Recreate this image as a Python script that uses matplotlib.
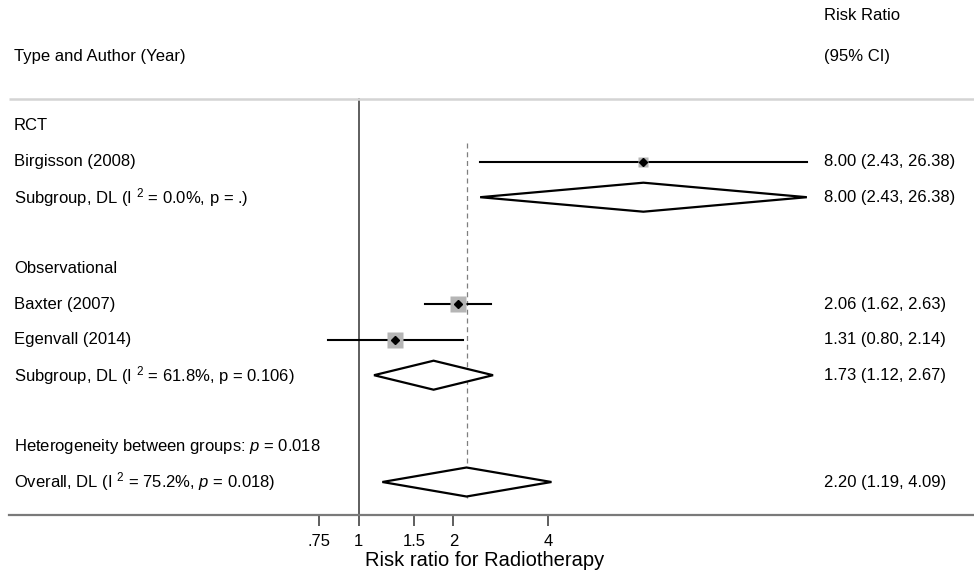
"""
Forest plot: risk ratio for radiotherapy, RCT vs observational studies.
"""

import numpy as np
import matplotlib.pyplot as plt
from matplotlib.patches import Polygon

plt.rcParams["font.family"] = ["Liberation Sans", "DejaVu Sans"]
plt.rcParams["mathtext.fontset"] = "custom"
plt.rcParams["mathtext.rm"] = "Liberation Sans"
plt.rcParams["mathtext.it"] = "Liberation Sans:italic"

# ----------------------------------------------------------------
# Data
# ----------------------------------------------------------------
group_names = ["RCT", "Observational"]

study_names  = ["Birgisson (2008)", "Baxter (2007)", "Egenvall (2014)"]
study_rr     = [8.00, 2.06, 1.31]
study_lo     = [2.43, 1.62, 0.80]
study_hi     = [26.38, 2.63, 2.14]
study_weight = [0.6, 1.0, 1.0]      # relative box size

pooled_names = [r"Subgroup, DL (I $^{2}$ = 0.0%, p = .)",
                r"Subgroup, DL (I $^{2}$ = 61.8%, p = 0.106)",
                r"Overall, DL (I $^{2}$ = 75.2%, $p$ = 0.018)"]
pooled_rr = [8.00, 1.73, 2.20]
pooled_lo = [2.43, 1.12, 1.19]
pooled_hi = [26.38, 2.67, 4.09]

het_text = "Heterogeneity between groups: $p$ = 0.018"

x_ticks       = [0.75, 1, 1.5, 2, 4]
x_tick_labels = [".75", "1", "1.5", "2", "4"]
x_title       = "Risk ratio for Radiotherapy"

# row layout (0 = first row under the header line)
group_rows  = [0, 4]
study_rows  = [1, 5, 6]
pooled_rows = [2, 7, 10]
het_row     = 9

# ----------------------------------------------------------------
# Geometry: one axes over the whole figure, log x, rows on y
# ----------------------------------------------------------------
W, H = 974, 572
PX_PER_LN = 137.0
X_ONE = 358.5            # pixel of RR = 1
ROW0, ROW_H = 126.0, 35.6


def px_to_rr(px):
    return np.exp((px - X_ONE) / PX_PER_LN)


def py_to_row(py):
    return (py - ROW0) / ROW_H


def px_frac(px):
    return px / W


fig = plt.figure(figsize=(W / 100, H / 100), dpi=100)
ax = fig.add_axes([0, 0, 1, 1])
ax.set_xscale("log")
ax.set_xlim(px_to_rr(0), px_to_rr(W))
ax.set_ylim(py_to_row(H), py_to_row(0))
for side in ["top", "left", "right"]:
    ax.spines[side].set_visible(False)
ax.set_yticks([])

FS = 12
trans = ax.get_yaxis_transform()   # x in axes fraction, y in data
LEFT_X = px_frac(14)
RIGHT_X = px_frac(824)

# ── header ──────────────────────────────────────────────────
ax.text(LEFT_X, py_to_row(56), "Type and Author (Year)", transform=trans,
        fontsize=FS, va="center", ha="left")
ax.text(RIGHT_X, py_to_row(15), "Risk Ratio", transform=trans,
        fontsize=FS, va="center", ha="left")
ax.text(RIGHT_X, py_to_row(56), "(95% CI)", transform=trans,
        fontsize=FS, va="center", ha="left")
sep_y = py_to_row(99)
ax.plot([px_to_rr(9), px_to_rr(W)], [sep_y, sep_y], color="#d4d4d4",
        lw=1.8, solid_capstyle="butt")

# ── bottom axis ─────────────────────────────────────────────
axis_y = py_to_row(515)
ax.spines["bottom"].set_position(("data", axis_y))
ax.spines["bottom"].set_bounds(px_to_rr(9), px_to_rr(W))
ax.spines["bottom"].set_color("#7a7a7a")
ax.spines["bottom"].set_linewidth(1.6)
ax.set_xticks(x_ticks)
ax.set_xticklabels(x_tick_labels, fontsize=FS)
ax.xaxis.set_minor_locator(plt.NullLocator())
ax.tick_params(axis="x", direction="out", length=8, width=1.1,
               color="#333333", pad=6)
ax.text(px_frac(485), py_to_row(561), x_title, transform=trans,
        fontsize=14.5, ha="center", va="center")

# ── reference lines ─────────────────────────────────────────
ax.plot([1, 1], [sep_y, axis_y], color="#333333", lw=1.1, zorder=1)
ax.plot([pooled_rr[-1]] * 2, [study_rows[0] - 0.53, pooled_rows[-1] + 0.45],
        color="#7f7f7f", lw=0.9, ls=(0, (4, 3)), zorder=1)

# ── group labels ────────────────────────────────────────────
for name, r in zip(group_names, group_rows):
    ax.text(LEFT_X, r, name, transform=trans, fontsize=FS, va="center")
ax.text(LEFT_X, het_row, het_text, transform=trans, fontsize=FS,
        va="center")

# ── individual studies ──────────────────────────────────────
for name, rr, lo, hi, w, r in zip(study_names, study_rr, study_lo, study_hi,
                                  study_weight, study_rows):
    ax.plot([lo, hi], [r, r], color="black", lw=1.5, zorder=2)
    ax.plot(rr, r, marker="s", ms=11 * w, color="#b5b5b5", mec="none",
            zorder=3)
    ax.plot(rr, r, marker="D", ms=4.5, color="black", zorder=4)
    ax.text(LEFT_X, r, name, transform=trans, fontsize=FS, va="center")
    ax.text(RIGHT_X, r, f"{rr:.2f} ({lo:.2f}, {hi:.2f})", transform=trans,
            fontsize=FS, va="center")

# ── pooled diamonds ─────────────────────────────────────────
DH = 14.5 / ROW_H
for name, rr, lo, hi, r in zip(pooled_names, pooled_rr, pooled_lo,
                               pooled_hi, pooled_rows):
    poly = Polygon([(lo, r), (rr, r - DH), (hi, r), (rr, r + DH)],
                   closed=True, facecolor="white", edgecolor="black",
                   lw=1.6, zorder=3)
    ax.add_patch(poly)
    ax.text(LEFT_X, r, name, transform=trans, fontsize=FS, va="center")
    ax.text(RIGHT_X, r, f"{rr:.2f} ({lo:.2f}, {hi:.2f})", transform=trans,
            fontsize=FS, va="center")

plt.savefig("out.png", dpi=100)
